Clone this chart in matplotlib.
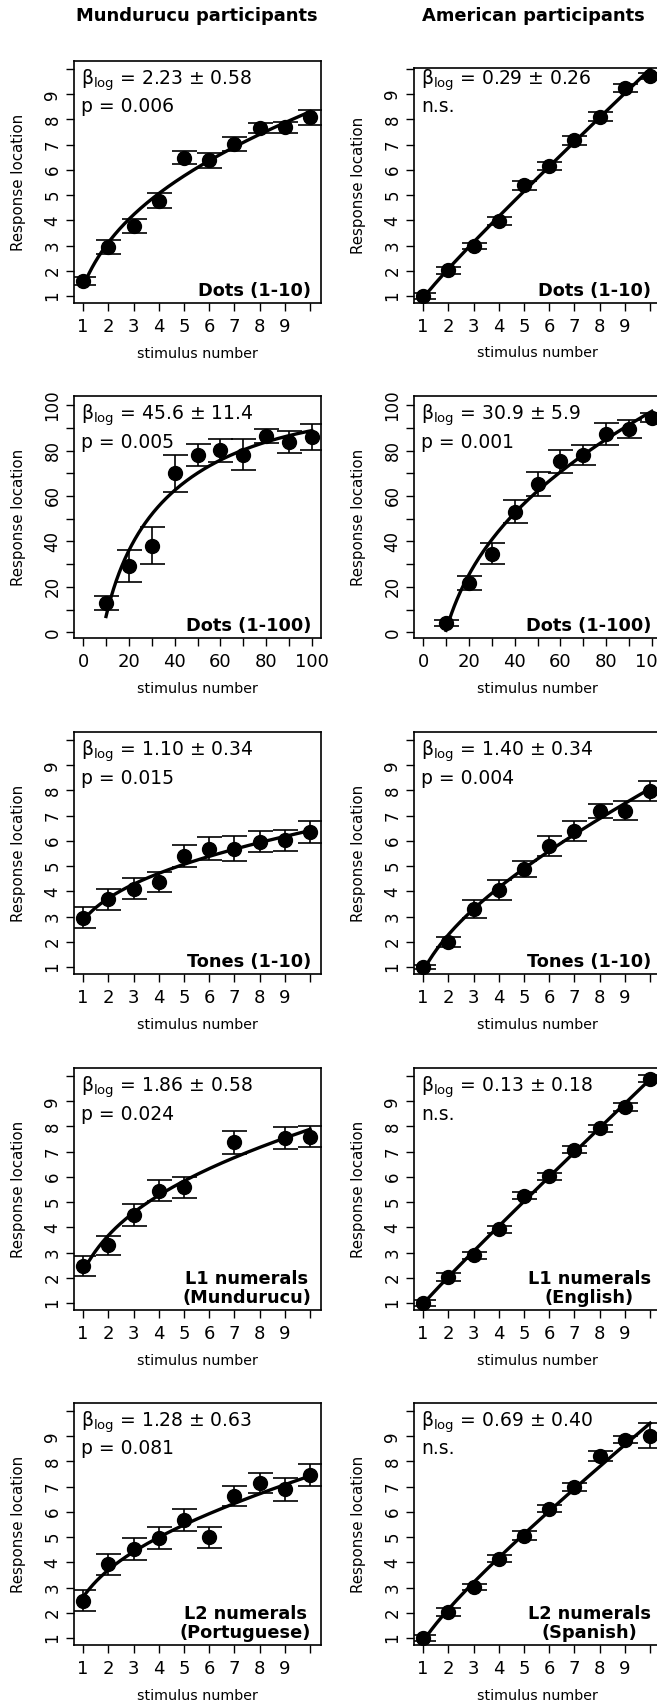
import numpy as np
import matplotlib
matplotlib.use("Agg")
import matplotlib.pyplot as plt

plt.rcParams["font.family"] = ["DejaVu Sans"]
plt.rcParams["mathtext.fontset"] = "dejavusans"

# --- DATI ---
STIM_10 = [1, 2, 3, 4, 5, 6, 7, 8, 9, 10]
STIM_100 = [10, 20, 30, 40, 50, 60, 70, 80, 90, 100]
STIM_L1_MUN = [1, 2, 3, 4, 5, 7, 9, 10]   # 6 e 8 mancano

mun_dots10 = [1.60, 2.94, 3.76, 4.77, 6.49, 6.38, 7.02, 7.68, 7.69, 8.08]
mun_dots10_err = [0.15, 0.27, 0.28, 0.30, 0.27, 0.30, 0.28, 0.20, 0.22, 0.29]
ame_dots10 = [1.00, 2.02, 2.98, 3.98, 5.39, 6.16, 7.18, 8.10, 9.25, 9.73]
ame_dots10_err = [0.12, 0.14, 0.13, 0.15, 0.18, 0.17, 0.18, 0.18, 0.15, 0.12]

mun_dots100 = [12.8, 29.1, 38.2, 69.9, 78.2, 80.1, 78.2, 86.5, 83.7, 85.9]
mun_dots100_err = [3.0, 7.0, 8.0, 8.3, 4.8, 5.0, 6.7, 3.1, 4.7, 5.6]
ame_dots100 = [4.1, 21.8, 34.6, 53.1, 65.4, 75.3, 78.2, 87.2, 89.5, 94.5]
ame_dots100_err = [1.5, 3.1, 4.5, 5.0, 5.3, 5.0, 4.4, 4.9, 3.8, 2.0]

mun_tones = [2.95, 3.68, 4.10, 4.36, 5.40, 5.69, 5.69, 5.97, 6.03, 6.35]
mun_tones_err = [0.42, 0.41, 0.42, 0.40, 0.44, 0.45, 0.50, 0.43, 0.42, 0.42]
ame_tones = [1.00, 1.99, 3.30, 4.05, 4.87, 5.80, 6.39, 7.19, 7.19, 7.98]
ame_tones_err = [0.08, 0.18, 0.36, 0.38, 0.32, 0.41, 0.38, 0.28, 0.38, 0.40]

mun_l1 = [2.46, 3.29, 4.49, 5.46, 5.59, 7.37, 7.54, 7.60]
mun_l1_err = [0.40, 0.37, 0.42, 0.42, 0.42, 0.46, 0.43, 0.43]
ame_l1 = [1.00, 2.04, 2.90, 3.92, 5.26, 6.02, 7.08, 7.93, 8.78, 9.90]
ame_l1_err = [0.12, 0.15, 0.14, 0.15, 0.14, 0.15, 0.15, 0.14, 0.16, 0.15]

mun_l2 = [2.48, 3.92, 4.53, 4.97, 5.67, 5.00, 6.63, 7.15, 6.89, 7.46]
mun_l2_err = [0.43, 0.42, 0.45, 0.43, 0.43, 0.42, 0.38, 0.39, 0.45, 0.45]
ame_l2 = [1.00, 2.02, 3.02, 4.15, 5.05, 6.12, 6.98, 8.20, 8.87, 9.03]
ame_l2_err = [0.12, 0.15, 0.12, 0.15, 0.18, 0.14, 0.17, 0.20, 0.15, 0.48]

mun_beta = ["2.23 ± 0.58", "45.6 ± 11.4", "1.10 ± 0.34", "1.86 ± 0.58", "1.28 ± 0.63"]
mun_p = ["p = 0.006", "p = 0.005", "p = 0.015", "p = 0.024", "p = 0.081"]
ame_beta = ["0.29 ± 0.26", "30.9 ± 5.9", "1.40 ± 0.34", "0.13 ± 0.18", "0.69 ± 0.40"]
ame_p = ["n.s.", "p = 0.001", "p = 0.004", "n.s.", "n.s."]

mun_tasks = ["Dots (1-10)", "Dots (1-100)", "Tones (1-10)",
             "L1 numerals\n(Mundurucu)", "L2 numerals\n(Portuguese)"]
ame_tasks = ["Dots (1-10)", "Dots (1-100)", "Tones (1-10)",
             "L1 numerals\n(English)", "L2 numerals\n(Spanish)"]

col_titles = ["Mundurucu participants", "American participants"]

# --- LAYOUT (pixel, figura 657x1702 a 100 dpi) ---
W, H = 657, 1702
COL_LEFT = [74, 414]
BOX_W, BOX_H = 247, 242
ROW_TOP = [61, 396, 732, 1068, 1403]


def log_lin_fit(x, y):
    """Fit ai minimi quadrati y = a + b*x + c*log(x)."""
    x = np.asarray(x, float)
    A = np.column_stack([np.ones_like(x), x, np.log(x)])
    coef, *_ = np.linalg.lstsq(A, np.asarray(y, float), rcond=None)
    xs = np.linspace(x.min(), x.max(), 300)
    return xs, coef[0] + coef[1] * xs + coef[2] * np.log(xs)


def draw_panel(ax, x, y, err, scale, beta, ptxt, task, ytop=None):
    ax.errorbar(x, y, yerr=err, fmt="none", ecolor="black", elinewidth=1.2,
                capsize=9, capthick=1.2, zorder=2)
    ax.plot(x, y, "o", color="black", markersize=10, zorder=3)
    xs, ys = log_lin_fit(x, y)
    ax.plot(xs, ys, color="black", lw=2.4, zorder=4)

    if scale == 10:
        ticks = list(range(1, 11))
        labels = [str(v) for v in range(1, 10)] + [""]
        ax.set_xlim(0.64, 10.43)
        ax.set_ylim(0.72, 10.32 if ytop is None else ytop)
    else:
        ticks = list(range(0, 101, 10))
        labels = [str(v) if v % 20 == 0 else "" for v in ticks]
        ax.set_xlim(-4, 104)
        ax.set_ylim(-2.5, 104 if ytop is None else ytop)

    ax.set_xticks(ticks)
    ax.set_xticklabels(labels)
    ax.set_yticks(ticks)
    ax.set_yticklabels(labels)
    ax.tick_params(axis="both", direction="out", length=6, width=1.0, color="black")
    ax.tick_params(axis="x", labelsize=13, pad=5)
    ax.tick_params(axis="y", labelsize=12, pad=3, labelrotation=90)
    for lab in ax.get_yticklabels():
        lab.set_va("center")
    for sp in ax.spines.values():
        sp.set_linewidth(1.2)

    ax.set_xlabel("stimulus number", fontsize=10.3)
    ax.set_ylabel("Response location", fontsize=10.8)
    ax.xaxis.set_label_coords(0.5, -51 / BOX_H)
    ax.xaxis.label.set_va("center")
    ax.yaxis.set_label_coords(-55 / BOX_W, 0.5)
    ax.yaxis.label.set_va("center")

    # testi in pixel rispetto all'angolo in basso a sinistra del box
    ax.annotate(r"$\mathrm{\beta}_{\mathrm{log}}$" + " = " + beta, xy=(0, 0),
                xycoords="axes fraction", xytext=(7, 223), textcoords="offset pixels",
                ha="left", va="center", fontsize=13.5)
    ax.annotate(ptxt, xy=(0, 0), xycoords="axes fraction",
                xytext=(7, 196), textcoords="offset pixels", ha="left", va="center",
                fontsize=13.5)
    ax.annotate(task, xy=(1, 0), xycoords="axes fraction",
                xytext=(-10, 3), textcoords="offset pixels", ha="right", va="bottom",
                multialignment="center", fontsize=12.8, fontweight="bold",
                linespacing=1.05)


fig = plt.figure(figsize=(W / 100, H / 100), dpi=100)

panels = [
    (STIM_10, mun_dots10, mun_dots10_err, ame_dots10, ame_dots10_err, 10),
    (STIM_100, mun_dots100, mun_dots100_err, ame_dots100, ame_dots100_err, 100),
    (STIM_10, mun_tones, mun_tones_err, ame_tones, ame_tones_err, 10),
    (None, mun_l1, mun_l1_err, ame_l1, ame_l1_err, 10),
    (STIM_10, mun_l2, mun_l2_err, ame_l2, ame_l2_err, 10),
]

for r, (xs, my, me, ay, ae, scale) in enumerate(panels):
    bottom = (H - ROW_TOP[r] - BOX_H) / H
    # colonna sinistra (Mundurucu)
    ax = fig.add_axes([COL_LEFT[0] / W, bottom, BOX_W / W, BOX_H / H])
    mx = STIM_L1_MUN if xs is None else xs
    draw_panel(ax, mx, my, me, scale, mun_beta[r], mun_p[r], mun_tasks[r])
    # colonna destra (americani), il box esce dal bordo destro
    if r == 0:
        hh = BOX_H - 7
        ax2 = fig.add_axes([COL_LEFT[1] / W, bottom, BOX_W / W, hh / H])
        draw_panel(ax2, STIM_10, ay, ae, scale, ame_beta[r], ame_p[r], ame_tasks[r], ytop=10.04)
    else:
        ax2 = fig.add_axes([COL_LEFT[1] / W, bottom, BOX_W / W, BOX_H / H])
        draw_panel(ax2, STIM_10 if scale == 10 else STIM_100, ay, ae, scale,
                   ame_beta[r], ame_p[r], ame_tasks[r])

fig.text(197 / W, 1 - 16 / H, col_titles[0], ha="center", va="center",
         fontsize=12.9, fontweight="bold")
fig.text(533 / W, 1 - 16 / H, col_titles[1], ha="center", va="center",
         fontsize=12.9, fontweight="bold")

fig.savefig("out.png", dpi=100)
